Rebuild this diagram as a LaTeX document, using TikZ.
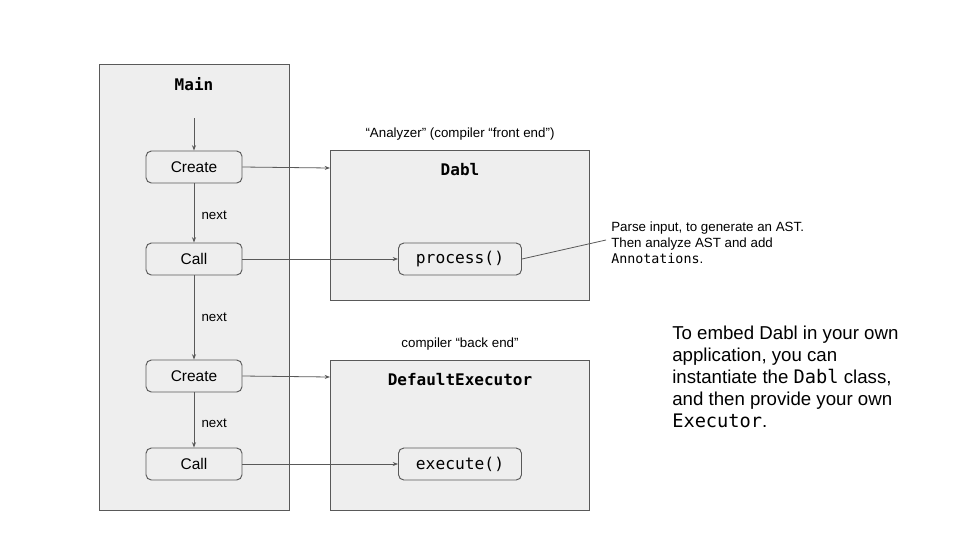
\documentclass[tikz,border=0pt]{standalone}
\usepackage{fontspec}
\setmainfont{Liberation Sans}
\setmonofont{DejaVu Sans Mono}
\usetikzlibrary{arrows.meta}
\definecolor{boxfill}{HTML}{EEEEEE}
\definecolor{edge}{HTML}{595959}
\begin{document}
\begin{tikzpicture}[x=0.75pt,y=-0.75pt,
  panel/.style={draw=edge,fill=boxfill,line width=0.7pt},
  stepbox/.style={draw=edge,fill=boxfill,rounded corners=4pt,line width=0.7pt,minimum width=96*0.75pt,minimum height=32*0.75pt,inner sep=0pt,font=\fontsize{11.6}{13}\selectfont},
  method/.style={draw=edge,fill=boxfill,rounded corners=4pt,line width=0.7pt,minimum width=123*0.75pt,minimum height=32*0.75pt,inner sep=0pt,font=\ttfamily\fontsize{12.2}{14}\selectfont},
  title/.style={font=\ttfamily\bfseries\fontsize{12}{14}\selectfont},
  small/.style={font=\fontsize{10}{12}\selectfont},
  conn/.style={draw=edge,line width=0.6pt,-{Stealth[length=4pt,width=3pt]}}]
\useasboundingbox (0,0) rectangle (960,540);
% panels
\draw[panel] (99,64) rectangle (289,510);
\draw[panel] (330,150) rectangle (589,300);
\draw[panel] (330,360) rectangle (589,510);
\coordinate (dablW) at (330,168);
\coordinate (execW) at (330,377);
\node[title] (main) at (194,84) {Main};
\node[title] (dabl) at (460,170) {Dabl};
\node[title] (defexec) at (460,380) {DefaultExecutor};
\node[small] (analyzer) at (460,134) {“Analyzer” (compiler “front end”)};
\node[small] (backend) at (460,344) {compiler “back end”};
% steps
\node[stepbox] (create1) at (194,167) {Create};
\node[stepbox] (call1) at (194,259) {Call};
\node[stepbox] (create2) at (194,376) {Create};
\node[stepbox] (call2) at (194,464) {Call};
\node[method] (process) at (460,259) {process()};
\node[method] (execute) at (460,464) {execute()};
\coordinate (start) at (194,118);
% connectors
\draw[conn] (start) -- (create1);
\draw[conn] (create1) -- node[small,right=2pt,pos=0.53]{next} (call1);
\draw[conn] (call1) -- node[small,right=2pt,pos=0.50]{next} (create2);
\draw[conn] (create2) -- node[small,right=2pt,pos=0.55]{next} (call2);
\draw[conn] (create1.east) -- (dablW);
\draw[conn] (call1) -- (process);
\draw[conn] (create2.east) -- (execW);
\draw[conn] (call2) -- (execute);
% annotation
\node[anchor=north west,align=left,inner sep=0pt,font=\fontsize{10}{12}\selectfont] (note) at (611,222)
  {Parse input, to generate an AST.\\Then analyze AST and add\\{\ttfamily Annotations}.};
\coordinate (noteEnd) at (606,240);
\draw[edge,line width=0.6pt] (process.east) -- (noteEnd);
\node[anchor=north west,align=left,inner sep=0pt,font=\fontsize{14}{16.5}\selectfont] (embed) at (672,326)
  {To embed Dabl in your own\\application, you can\\instantiate the {\ttfamily Dabl} class,\\and then provide your own\\{\ttfamily Executor}.};
\end{tikzpicture}
\end{document}
